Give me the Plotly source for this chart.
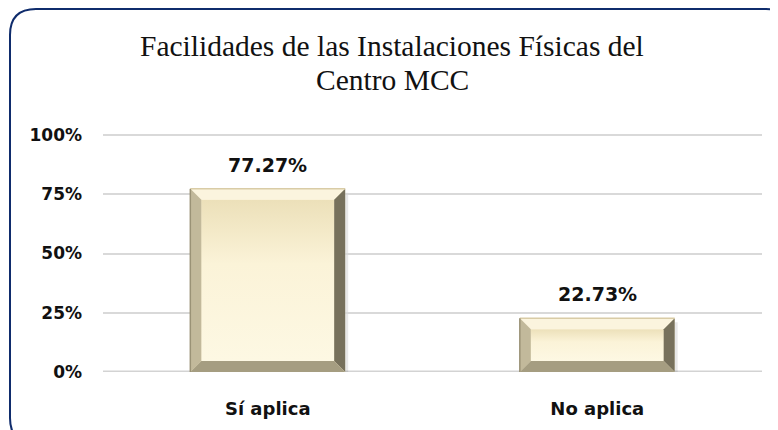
import plotly.graph_objects as go

categories = ["Sí aplica", "No aplica"]
values = [77.27, 22.73]
value_labels = ["77.27%", "22.73%"]
y_ticks = [0, 25, 50, 75, 100]
y_tick_labels = ["0%", "25%", "50%", "75%", "100%"]
title_lines = ["Facilidades de las Instalaciones Físicas del", "Centro MCC"]

# the page adds an 8px body margin, so the figure is 8px smaller
W, H = 770, 422
ML, MR, MT, MB = 95, 16, 122, 58
PW, PH = W - ML - MR, H - MT - MB
Y_TOP = PH / 2.37
BAR_W = 0.47
XPOS = list(range(len(categories)))

px_per_x = PW / 2.0
px_per_y = PH / Y_TOP
bev = 11
dx = bev / px_per_x
dy = bev / px_per_y

fig = go.Figure()
shapes = []

# soft drop shadows
for xc, v in zip(XPOS, values):
    sx = 3 / px_per_x
    sy = 4 / px_per_y
    shapes.append(dict(type="rect", xref="x", yref="y", layer="below",
                       x0=xc - BAR_W / 2 + sx, x1=xc + BAR_W / 2 + sx,
                       y0=-sy, y1=v - sy, line=dict(width=0),
                       fillcolor="rgba(0,0,0,0.09)"))

fig.add_trace(go.Bar(x=XPOS, y=values, width=BAR_W,
                     marker=dict(color="#f9f0d3", line=dict(width=0)),
                     cliponaxis=False, hoverinfo="skip", showlegend=False))

# face gradient
for xc, v in zip(XPOS, values):
    xi0, xi1 = xc - BAR_W / 2 + dx, xc + BAR_W / 2 - dx
    yi0, yi1 = dy, v - dy
    fig.add_trace(go.Scatter(x=[xi0, xi1, xi1, xi0, xi0], y=[yi0, yi0, yi1, yi1, yi0],
                             mode="lines", line=dict(width=0), fill="toself",
                             fillgradient=dict(type="vertical",
                                               colorscale=[[0, "#fdf8e3"], [0.6, "#fbf3d8"], [1, "#ece0b9"]]),
                             hoverinfo="skip", showlegend=False))

def poly(pts):
    return "M " + " L ".join(f"{x},{y}" for x, y in pts) + " Z"

for xc, v in zip(XPOS, values):
    x0, x1 = xc - BAR_W / 2, xc + BAR_W / 2
    y0, y1 = 0, v
    xi0, xi1, yi0, yi1 = x0 + dx, x1 - dx, y0 + dy, y1 - dy
    parts = [
        ([(x0, y1), (x1, y1), (xi1, yi1), (xi0, yi1)], "#fbf4de"),
        ([(x0, y0), (x0, y1), (xi0, yi1), (xi0, yi0)], "#c2b99b"),
        ([(x1, y0), (x1, y1), (xi1, yi1), (xi1, yi0)], "#77715c"),
        ([(x0, y0), (x1, y0), (xi1, yi0), (xi0, yi0)], "#a59d81"),
    ]
    for pts, col in parts:
        shapes.append(dict(type="path", xref="x", yref="y", layer="above",
                           path=poly(pts), fillcolor=col, line=dict(width=0)))
    shapes.append(dict(type="line", xref="x", yref="y", layer="above",
                       x0=x0, x1=x1, y0=y1, y1=y1, line=dict(color="#d9cca6", width=1.5)))
    shapes.append(dict(type="line", xref="x", yref="y", layer="above",
                       x0=x0, x1=x0, y0=y0, y1=y1, line=dict(color="#9a9276", width=1.5)))

# rounded outer border (pixel -> paper)
def P(px, py):
    return f"{(px - ML) / PW:.5f},{(H - MB - py) / PH:.5f}"

Lb, Rb, Tb, Bb, r = 2, 784, 1, 436, 26
border = (f"M {P(Lb + r, Tb)} L {P(Rb - r, Tb)} Q {P(Rb, Tb)} {P(Rb, Tb + r)} "
          f"L {P(Rb, Bb - r)} Q {P(Rb, Bb)} {P(Rb - r, Bb)} "
          f"L {P(Lb + r, Bb)} Q {P(Lb, Bb)} {P(Lb, Bb - r)} "
          f"L {P(Lb, Tb + r)} Q {P(Lb, Tb)} {P(Lb + r, Tb)} Z")
shapes.append(dict(type="path", xref="paper", yref="paper", path=border,
                   line=dict(color="#0f2c6c", width=2), fillcolor="rgba(0,0,0,0)"))

# thicker baseline
shapes.append(dict(type="line", xref="paper", yref="y", layer="below",
                   x0=0, x1=1, y0=0, y1=0, line=dict(color="#d3d3d3", width=3)))

annotations = []
for xc, v, t in zip(XPOS, values, value_labels):
    annotations.append(dict(x=xc, y=v, xref="x", yref="y", text=t, showarrow=False,
                            yanchor="bottom", yshift=11,
                            font=dict(family="DejaVu Sans", size=19, color="#111111", weight="bold")))

title_px = [(384, 38), (384, 72)]
for line, (tx, ty) in zip(title_lines, title_px):
    annotations.append(dict(x=(tx - ML) / PW, y=(H - MB - ty) / PH, xref="paper", yref="paper",
                            text=line, showarrow=False, xanchor="center", yanchor="middle",
                            font=dict(family="Liberation Serif", size=29.5, color="#111111")))

fig.update_layout(
    width=W, height=H,
    margin=dict(l=ML, r=MR, t=MT, b=MB),
    paper_bgcolor="white", plot_bgcolor="white",
    xaxis=dict(range=[-0.5, 1.5], tickvals=XPOS, ticktext=categories,
               showgrid=False, zeroline=False, showline=False, ticks="",
               ticklabelstandoff=24,
               tickfont=dict(family="DejaVu Sans", size=18, color="#111111", weight="bold")),
    yaxis=dict(range=[0, Y_TOP], tickvals=y_ticks, ticktext=y_tick_labels,
               showgrid=True, gridcolor="#d9d9d9", gridwidth=1.5,
               zeroline=False, showline=False, ticks="",
               ticklabelstandoff=20,
               tickfont=dict(family="DejaVu Sans", size=17, color="#111111", weight="bold")),
    shapes=shapes, annotations=annotations,
    bargap=0.53, showlegend=False,
)

fig.write_html("out.html")
